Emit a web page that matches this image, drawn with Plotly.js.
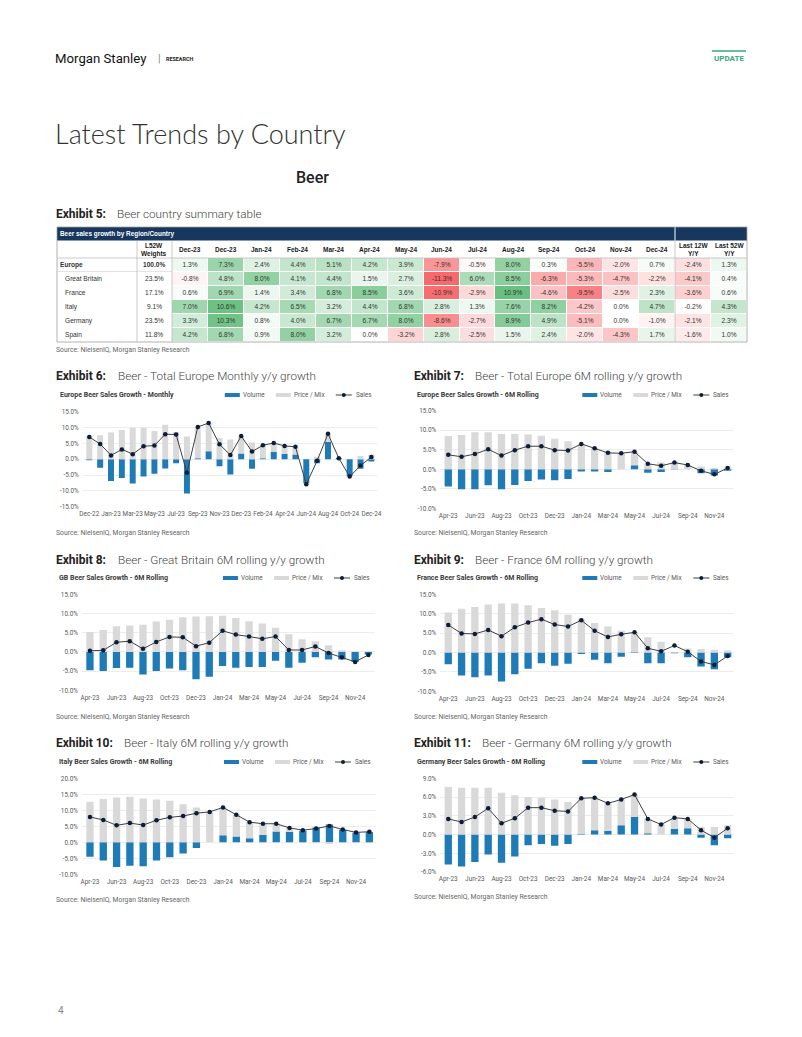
<!DOCTYPE html>
<html><head><meta charset="utf-8">
<script src="https://cdn.plot.ly/plotly-3.0.1.min.js"></script>
<style>html,body{margin:0;padding:0;background:#fff;}#page{width:802px;height:1037px;}</style>
</head><body><div id="page"></div>
<script>
// ---------- DATA ----------
const monthlyLabels = ["Dec-22","Dec-22","Jan-23","Feb-23","Mar-23","Apr-23","May-23","Jun-23","Jul-23","Aug-23","Sep-23","Oct-23","Nov-23","Dec-23","Dec-23","Jan-24","Feb-24","Mar-24","Apr-24","May-24","Jun-24","Jul-24","Aug-24","Sep-24","Oct-24","Nov-24","Dec-24"];
const rollingLabels = ["Apr-23","May-23","Jun-23","Jul-23","Aug-23","Sep-23","Oct-23","Nov-23","Dec-23","Dec-23","Jan-24","Feb-24","Mar-24","Apr-24","May-24","Jun-24","Jul-24","Aug-24","Sep-24","Oct-24","Nov-24","Dec-24"];

const euMonthlyVolume   = [-0.3,-2.7,-6.9,-5.9,-7.7,-5.5,-4.6,-2.9,-1.3,-10.8,0.3,2.5,-2.2,-4.8,1.8,-3.0,0.3,2.3,1.7,1.5,-7.6,-1.3,5.5,0.4,-5.3,-3.0,-0.7];
const euMonthlyPriceMix = [7.4,7.6,8.4,9.2,9.9,9.9,8.9,10.9,8.6,7.2,9.9,8.9,6.7,6.2,5.5,5.3,4.1,2.8,2.5,2.4,-0.3,0.8,2.5,-0.1,-0.2,1.0,1.4];
const euMonthlySales    = [7.0,4.8,1.2,3.1,1.6,4.1,4.3,7.9,7.8,-4.3,10.2,11.4,4.7,1.3,7.3,2.4,4.4,5.1,4.2,3.9,-7.9,-0.5,8.0,0.3,-5.5,-2.0,0.7];

const euRollVolume   = [-4.4,-5.1,-5.1,-4.1,-5.1,-4.0,-3.0,-2.6,-2.8,-2.5,-0.6,-0.6,-0.7,0.0,1.0,-0.9,-0.7,0.1,0.0,-1.0,-1.6,-0.4];
const euRollPriceMix = [8.5,8.8,9.5,9.5,9.0,9.0,8.9,8.6,7.8,7.2,6.4,5.5,4.5,4.1,3.5,1.5,1.7,1.7,1.1,0.7,0.3,0.7];
const euRollSales    = [3.7,3.2,3.9,5.1,3.5,4.9,5.9,5.9,4.9,4.8,6.5,5.4,4.2,4.1,4.5,1.4,0.9,1.7,1.1,-0.4,-1.3,0.3];

const gbRollVolume   = [-4.8,-5.0,-4.2,-4.1,-5.9,-5.0,-4.3,-4.8,-7.1,-6.5,-3.7,-4.1,-3.9,-3.9,-2.3,-4.1,-2.8,-1.4,-2.0,-2.0,-2.6,-0.7];
const gbRollPriceMix = [5.2,5.7,6.7,6.9,7.1,7.9,8.4,9.0,9.2,9.3,9.4,8.8,8.0,7.4,6.3,4.6,3.3,2.8,1.7,0.4,0.1,0.2];
const gbRollSales    = [0.3,0.4,2.5,2.8,0.8,2.6,3.9,3.8,1.5,2.4,5.5,4.5,4.0,3.4,4.0,0.5,0.5,1.4,-0.3,-1.4,-2.6,-0.8];

const frRollVolume   = [-3.0,-5.9,-6.4,-5.9,-7.5,-5.6,-4.2,-2.8,-3.4,-2.9,-0.4,-1.9,-2.8,-1.1,0.2,-2.8,-2.8,0.1,-1.2,-3.6,-4.3,-1.2];
const frRollPriceMix = [10.3,11.3,11.7,12.4,12.6,12.6,12.2,11.5,10.9,9.7,8.7,7.6,6.7,5.6,5.0,3.9,2.8,-0.4,1.0,0.9,0.7,0.5];
const frRollSales    = [7.1,4.9,4.8,5.8,4.2,6.5,7.7,8.6,7.2,6.7,8.3,5.6,4.0,4.7,5.2,1.1,0.3,1.8,0.2,-2.3,-3.2,-0.9];

const itRollVolume   = [-4.5,-5.7,-7.7,-7.3,-7.5,-5.7,-4.7,-3.5,-1.8,0.0,2.2,1.8,1.3,2.3,3.4,3.2,3.5,4.6,5.6,3.9,3.0,3.2];
const itRollPriceMix = [12.7,13.5,14.0,14.2,13.7,13.4,13.0,11.9,10.9,9.4,8.6,6.9,5.0,3.5,2.4,1.3,0.3,-0.3,-0.5,0.1,0.1,0.1];
const itRollSales    = [7.9,7.0,5.3,6.0,5.4,6.9,7.8,8.2,9.1,9.5,10.9,8.6,6.3,5.8,5.8,4.5,3.8,4.3,5.1,4.0,3.1,3.3];

const deRollVolume   = [-4.8,-5.1,-4.4,-3.2,-4.5,-3.5,-1.7,-1.5,-1.8,-1.5,0.1,0.7,0.6,1.5,2.8,0.2,0.0,0.9,1.0,-0.5,-1.7,-0.6];
const deRollPriceMix = [7.6,7.5,7.5,7.5,6.7,6.3,6.0,5.9,5.6,5.2,5.7,5.2,4.4,4.1,3.6,2.3,1.6,1.8,1.5,1.2,1.2,1.5];
const deRollSales    = [2.5,2.0,2.8,4.2,1.8,2.6,4.3,4.3,3.8,3.7,5.8,5.9,5.0,5.6,6.4,2.5,1.6,2.7,2.5,0.7,-0.5,1.0];

const tablePeriods = ["Dec-23","Dec-23","Jan-24","Feb-24","Mar-24","Apr-24","May-24","Jun-24","Jul-24","Aug-24","Sep-24","Oct-24","Nov-24","Dec-24","Last 12W<br>Y/Y","Last 52W<br>Y/Y"];
const tableRegions = ["Europe","Great Britain","France","Italy","Germany","Spain"];
const tableWeights = [100.0,23.5,17.1,9.1,23.5,11.8];
const europeGrowth  = [1.3,7.3,2.4,4.4,5.1,4.2,3.9,-7.9,-0.5,8.0,0.3,-5.5,-2.0,0.7,-2.4,1.3];
const gbGrowth      = [-0.8,4.8,8.0,4.1,4.4,1.5,2.7,-11.3,6.0,8.5,-6.3,-5.3,-4.7,-2.2,-4.1,0.4];
const franceGrowth  = [0.6,6.9,1.4,3.4,6.8,8.5,3.6,-10.9,-2.9,10.9,-4.6,-9.5,-2.5,2.3,-3.6,0.6];
const italyGrowth   = [7.0,10.6,4.2,6.5,3.2,4.4,6.8,2.8,1.3,7.6,8.2,-4.2,0.0,4.7,-0.2,4.3];
const germanyGrowth = [3.3,10.3,0.8,4.0,6.7,6.7,8.0,-8.6,-2.7,8.9,4.9,-5.1,0.0,-1.0,-2.1,2.3];
const spainGrowth   = [4.2,6.8,0.9,8.0,3.2,0.0,-3.2,2.8,-2.5,1.5,2.4,-2.0,-4.3,1.7,-1.6,1.0];

// ---------- HELPERS ----------
const W = 802, H = 1037;
const px = x => x / W, py = y => 1 - y / H;
const BLUE = '#1f7bb6', GREY = '#d9d9d9', LINE = '#404040', DOT = '#0d1d38';
const FONT = 'Roboto, Arial, sans-serif';
const TFONT = '"Liberation Sans", Arial, sans-serif';
const TICK = {family:FONT, size:6.4, color:'#595959'};
const annotations = [], shapes = [], traces = [];
const layout = {width:W, height:H, margin:{l:0,r:0,t:0,b:0}, paper_bgcolor:'#fff', plot_bgcolor:'rgba(0,0,0,0)',
  barmode:'relative', showlegend:false, annotations, shapes, font:{family:FONT}};

function txt(x, y, text, o) {
  o = o || {};
  annotations.push({xref:o.xref || 'paper', yref:o.yref || 'paper', x:o.xref ? x : px(x), y:o.yref ? y : py(y), text:text, showarrow:false,
    xanchor:o.xa || 'left', yanchor:o.ya || 'middle', borderpad:0,
    font:{family:o.family || FONT, size:o.size || 7, color:o.color || '#333', weight:o.weight || 400}});
}
function hline(x0, x1, y, color, width) {
  shapes.push({type:'line', xref:'paper', yref:'paper', x0:px(x0), x1:px(x1), y0:py(y), y1:py(y), line:{color:color, width:width}});
}
function vline(x, y0, y1, color, width) {
  shapes.push({type:'line', xref:'paper', yref:'paper', x0:px(x), x1:px(x), y0:py(y0), y1:py(y1), line:{color:color, width:width}});
}

// ---------- PAGE TEXT ----------
txt(54, 58, 'Morgan Stanley', {size:13.2, color:'#111'});
txt(157, 58, '|', {size:11, color:'#888'});
txt(165, 58.5, 'RESEARCH', {size:5.4, color:'#222', weight:700});
hline(712, 746, 51, '#39a87c', 1.6);
txt(729, 58.5, 'UPDATE', {xa:'center', size:8, color:'#39a87c', weight:700});
txt(54, 133, 'Latest Trends by Country', {family:'Lato, "Open Sans", sans-serif', size:27, color:'#333', weight:300});
txt(312, 177, 'Beer', {xa:'center', size:16, color:'#222', weight:500});
function exhibit(x, y, num, title, gap) {
  txt(x, y, 'Exhibit ' + num + ':', {size:12, color:'#222', weight:700});
  txt(x + gap, y, title, {size:11.7, color:'#444', weight:300});
}
function source(x, y) { txt(x, y, 'Source: NielsenIQ, Morgan Stanley Research', {size:6.8, color:'#666'}); }

exhibit(55, 214, 5, 'Beer country summary table', 61);
source(55, 350);
exhibit(55, 376, 6, 'Beer - Total Europe Monthly y/y growth', 62);
exhibit(413, 376, 7, 'Beer - Total Europe 6M rolling y/y growth', 61);
source(55, 533); source(413, 533);
exhibit(55, 560, 8, 'Beer - Great Britain 6M rolling y/y growth', 62);
exhibit(413, 560, 9, 'Beer - France 6M rolling y/y growth', 61);
source(55, 717); source(413, 717);
exhibit(55, 743, 10, 'Beer - Italy 6M rolling y/y growth', 68);
exhibit(413, 743, 11, 'Beer - Germany 6M rolling y/y growth', 68);
source(55, 900); source(413, 897);
txt(57, 1010, '4', {size:10, color:'#888'});

// ---------- TABLE (heatmap) ----------
const regionGrowth = [europeGrowth, gbGrowth, franceGrowth, italyGrowth, germanyGrowth, spainGrowth];
const pct = v => v.toFixed(1) + '%';
const cellText = regionGrowth.map((g, i) => g.map(v => i === 0 ? pct(v) : pct(v)));
const colIdx = tablePeriods.map((p, j) => j);
const rowIdx = tableRegions.map((r, i) => i);
traces.push({type:'heatmap', x:colIdx, y:rowIdx, z:regionGrowth, text:cellText, texttemplate:'%{text}',
  textfont:{family:TFONT, size:6.6, color:'#333'}, xaxis:'x7', yaxis:'y7',
  colorscale:[[0,'#F8696B'],[0.5,'#FFFFFF'],[1,'#63BE7B']], zmin:-11.3, zmax:11.3, zmid:0,
  showscale:false, xgap:1, ygap:1, hoverinfo:'skip'});
layout.xaxis7 = {domain:[px(172), px(747)], range:[-0.5, 15.5], visible:false, fixedrange:true, anchor:'y7'};
layout.yaxis7 = {domain:[py(342), py(258)], range:[5.5, -0.5], visible:false, fixedrange:true, anchor:'x7'};

shapes.push({type:'rect', xref:'paper', yref:'paper', x0:px(57), x1:px(747), y0:py(240.5), y1:py(227), fillcolor:'#17375e', line:{width:0}});
vline(675, 227, 240.5, '#ffffff', 1);
txt(59, 234, '<b>Beer sales growth by Region/Country</b>', {size:6.4, color:'#fff', family:TFONT});
shapes.push({type:'rect', xref:'paper', yref:'paper', x0:px(57), x1:px(747), y0:py(342), y1:py(227), line:{color:'#a0a0a0', width:0.8}});
hline(57, 747, 258, '#bdbdbd', 0.8);
hline(57, 172, 271.5, '#d0d0d0', 0.6);
vline(137, 241, 342, '#bdbdbd', 0.8);
vline(172, 241, 342, '#bdbdbd', 0.8);
vline(675, 241, 342, '#bdbdbd', 0.8);
tablePeriods.forEach((p, j) => txt(j, 249.5, '<b>' + p + '</b>', {xref:'x7', xa:'center', size:6.5, color:'#1a1a1a', family:TFONT}));
txt(154, 249.5, '<b>L52W<br>Weights</b>', {xa:'center', size:6.5, color:'#1a1a1a', family:TFONT});
tableRegions.forEach((r, i) => {
  txt(i === 0 ? 59 : 64, i, i === 0 ? '<b>' + r + '</b>' : r, {yref:'y7', size:6.6, color:'#333', family:TFONT});
  txt(154, i, i === 0 ? '<b>' + pct(tableWeights[i]) + '</b>' : pct(tableWeights[i]), {yref:'y7', xa:'center', size:6.6, color:'#333', family:TFONT});
});

// ---------- CHARTS ----------
const charts = [
  {title:'Europe Beer Sales Growth - Monthly', labels:monthlyLabels, vol:euMonthlyVolume, pm:euMonthlyPriceMix, sales:euMonthlySales,
   x0:82.8, x1:376.8, y0:411.7, y1:506.7, range:[-15,15], dtick:5, xr:[-0.6,26.5], ty:395, tx:59},
  {title:'Europe Beer Sales Growth - 6M Rolling', labels:rollingLabels, vol:euRollVolume, pm:euRollPriceMix, sales:euRollSales,
   x0:440.3, x1:734.3, y0:410.7, y1:508.3, range:[-10,15], dtick:5, xr:[-0.6,21.5], ty:395, tx:416},
  {title:'GB Beer Sales Growth - 6M Rolling', labels:rollingLabels, vol:gbRollVolume, pm:gbRollPriceMix, sales:gbRollSales,
   x0:82.0, x1:375.0, y0:594.3, y1:690.3, range:[-10,15], dtick:5, xr:[-0.6,21.5], ty:578, tx:58},
  {title:'France Beer Sales Growth - 6M Rolling', labels:rollingLabels, vol:frRollVolume, pm:frRollPriceMix, sales:frRollSales,
   x0:440.3, x1:734.3, y0:594.3, y1:691.3, range:[-10,15], dtick:5, xr:[-0.6,21.5], ty:578, tx:416},
  {title:'Italy Beer Sales Growth - 6M Rolling', labels:rollingLabels, vol:itRollVolume, pm:itRollPriceMix, sales:itRollSales,
   x0:82.0, x1:376.0, y0:778.3, y1:874.3, range:[-10,20], dtick:5, xr:[-0.6,21.5], ty:762, tx:58},
  {title:'Germany Beer Sales Growth - 6M Rolling', labels:rollingLabels, vol:deRollVolume, pm:deRollPriceMix, sales:deRollSales,
   x0:440.3, x1:734.3, y0:778.3, y1:872.0, range:[-6,9], dtick:3, xr:[-0.6,21.5], ty:762, tx:416}
];

charts.forEach((c, k) => {
  const n = k + 1, xs = n === 1 ? '' : String(n);
  const idx = c.labels.map((l, i) => i);
  const tv = idx.filter(i => i % 2 === 0);
  const yt = [];
  for (let v = c.range[0]; v <= c.range[1] + 1e-9; v += c.dtick) yt.push(v);
  layout['xaxis' + xs] = {domain:[px(c.x0), px(c.x1)], anchor:'y' + xs, range:c.xr, tickmode:'array', tickvals:tv,
    ticktext:tv.map(i => c.labels[i]), tickangle:0, showgrid:false, zeroline:false, showline:false, ticks:'',
    tickfont:TICK, fixedrange:true, ticklabelstandoff:2};
  layout['yaxis' + xs] = {domain:[py(c.y1), py(c.y0)], anchor:'x' + xs, range:c.range, tickmode:'array', tickvals:yt,
    ticktext:yt.map(v => v.toFixed(1) + '%'), showgrid:true, gridcolor:'#e8e8e8', gridwidth:0.8, zeroline:false,
    showline:false, ticks:'', tickfont:TICK, fixedrange:true, ticklabelstandoff:3};
  traces.push({type:'bar', x:idx, y:c.vol, xaxis:'x' + xs, yaxis:'y' + xs, marker:{color:BLUE, line:{width:0}}, width:0.55, name:'Volume'});
  traces.push({type:'bar', x:idx, y:c.pm, xaxis:'x' + xs, yaxis:'y' + xs, marker:{color:GREY, line:{width:0}}, width:0.55, name:'Price / Mix'});
  traces.push({type:'scatter', mode:'lines+markers', x:idx, y:c.sales, xaxis:'x' + xs, yaxis:'y' + xs,
    line:{color:LINE, width:1}, marker:{color:DOT, size:4.5}, name:'Sales'});
  txt(c.tx, c.ty, c.title, {size:7.0, color:'#3a3a3a', weight:700});
  const R = c.x1;
  hline(R - 152, R - 137, c.ty, BLUE, 4);
  txt(R - 135, c.ty, 'Volume', {size:6.4, color:'#595959'});
  hline(R - 101, R - 86, c.ty, GREY, 4);
  txt(R - 84, c.ty, 'Price / Mix', {size:6.4, color:'#595959'});
  hline(R - 41, R - 25, c.ty, LINE, 1);
  shapes.push({type:'circle', xref:'paper', yref:'paper', x0:px(R - 35), x1:px(R - 31), y0:py(c.ty + 2), y1:py(c.ty - 2), fillcolor:DOT, line:{width:0}});
  txt(R - 22, c.ty, 'Sales', {size:6.4, color:'#595959'});
});

Plotly.newPlot('page', traces, layout, {displayModeBar:false, staticPlot:true});
</script></body></html>
